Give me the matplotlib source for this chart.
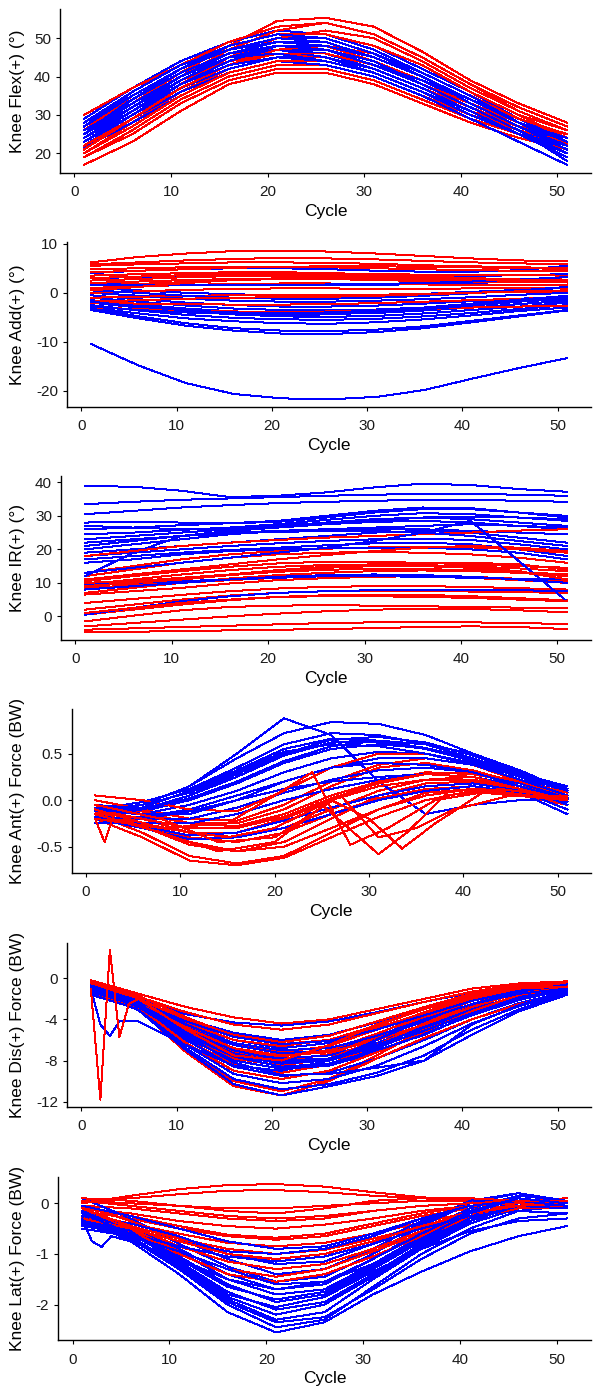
import matplotlib
matplotlib.use("Agg")
import matplotlib.pyplot as plt

plt.rcParams["font.family"] = ["Liberation Sans", "DejaVu Sans"]
plt.rcParams["axes.unicode_minus"] = False

# === Data: knee curves sampled every 5 cycles ===
CYCLE = [1, 6, 11, 16, 21, 26, 31, 36, 41, 46, 51]

flex_blue = [
    [29, 37, 44, 49, 52, 51, 47, 41, 35, 29, 25],
    [28, 35, 42, 47, 50, 50, 46, 40, 34, 28, 24],
    [27, 34, 41, 46, 49, 48, 44, 39, 33, 27, 23],
    [26, 33, 40, 45, 48, 47, 43, 38, 32, 26, 22],
    [25, 32, 39, 44, 47, 46, 42, 37, 31, 26, 21],
    [24, 31, 38, 43, 46, 46, 43, 38, 32, 27, 24],
    [23, 30, 37, 42, 45, 45, 42, 37, 31, 26, 22],
    [22, 29, 36, 41, 44, 44, 41, 36, 30, 25, 20],
    [21.5, 28, 35, 41, 44, 43, 40, 35, 29, 23, 17],
    [26, 34, 41, 46, 48, 47, 44, 39, 34, 29, 25],
    [24, 32, 40, 46, 49, 49, 45, 40, 34, 28, 22],
    [27, 36, 43, 48, 51, 51, 48, 42, 36, 29, 23],
    [23, 31, 39, 45, 47, 45, 41, 36, 31, 25, 19],
    [25, 33, 40, 45, 47, 46, 43, 39, 33, 27, 21],
    [22, 30, 38, 44, 47, 47, 44, 38, 32, 26, 18],
    [28, 36, 43, 47, 49, 48, 45, 40, 33, 27, 22],
    [24, 31, 38, 43, 45, 44, 41, 36, 30, 25, 20],
    [26, 33, 40, 45, 46, 44, 41, 36, 30, 25, 22],
    [25, 34, 42, 48, 51, 50, 46, 41, 35, 28, 23],
    [23, 30, 38, 44, 48, 48, 45, 40, 33, 27, 21],
    [27, 35, 42, 47, 50, 49, 45, 40, 34, 28, 24],
    [24, 32, 39, 45, 48, 47, 43, 38, 32, 26, 20],
]
flex_red = [
    [25, 33, 41, 48, 54.5, 55.3, 53, 46.5, 39, 33, 28],
    [24, 32, 40, 47, 52, 54, 51, 45, 38, 32, 27],
    [30, 37, 43, 48, 51, 51, 48, 42, 36, 30, 24],
    [22, 30, 38, 45, 50, 52, 50, 44, 37, 31, 26],
    [20, 28, 36, 42, 45, 45, 42, 37, 32, 27, 23],
    [19, 26, 34, 40, 43, 43, 40, 35, 30, 26, 22],
    [17, 23, 31, 38, 41, 41, 38, 33, 28, 24, 21],
    [19, 25, 33, 39, 42, 42, 39, 34, 29, 25, 22.5],
    [23, 31, 39, 45, 48, 48, 45, 40, 34, 29, 24],
    [26, 34, 41, 46, 47, 45, 41, 36, 31, 27, 25],
    [21, 29, 37, 43, 46, 46, 43, 38, 32, 27, 21],
    [27, 35, 42, 47, 49, 48, 44, 39, 33, 28, 24],
    [25, 33, 40, 45, 46, 45, 41, 36, 31, 26, 23],
    [20, 27, 35, 41, 44, 44, 41, 36, 30, 25, 20],
    [28, 36, 43, 49, 53, 54, 51, 45, 38, 31, 26],
    [24, 32, 39, 44, 46, 46, 43, 38, 33, 27, 22],
    [22, 29, 37, 43, 47, 48, 46, 41, 35, 29, 25],
    [26, 35, 42, 48, 51, 51, 48, 43, 36, 30, 26],
]

add_blue = [
    [4.0, 4.5, 4.8, 5.0, 5.0, 4.8, 4.5, 4.3, 4.3, 4.6, 5.5],
    [3.0, 3.2, 3.4, 3.5, 3.5, 3.4, 3.3, 3.3, 3.4, 3.6, 3.8],
    [2.0, 1.8, 1.6, 1.5, 1.5, 1.5, 1.6, 1.8, 2.0, 2.3, 2.6],
    [1.0, 0.5, 0.0, -0.3, -0.5, -0.5, -0.4, -0.2, 0.2, 0.6, 1.0],
    [0.0, -0.6, -1.2, -1.6, -1.8, -1.8, -1.6, -1.3, -0.9, -0.4, 0.0],
    [-0.5, -1.3, -2.0, -2.5, -2.8, -2.8, -2.6, -2.2, -1.7, -1.2, -0.8],
    [-1.0, -1.8, -2.6, -3.2, -3.5, -3.6, -3.4, -3.0, -2.4, -1.8, -1.2],
    [-1.5, -2.4, -3.2, -3.8, -4.2, -4.3, -4.1, -3.6, -3.0, -2.3, -1.6],
    [-2.0, -3.0, -3.8, -4.4, -4.8, -4.9, -4.7, -4.2, -3.5, -2.8, -2.0],
    [-2.5, -3.6, -4.5, -5.1, -5.4, -5.5, -5.3, -4.8, -4.1, -3.3, -2.5],
    [-3.0, -4.2, -5.2, -5.8, -6.2, -6.3, -6.0, -5.4, -4.6, -3.7, -3.0],
    [-3.2, -4.8, -6.2, -7.2, -7.7, -7.8, -7.5, -6.8, -5.7, -4.6, -3.5],
    [-3.5, -5.2, -6.7, -7.7, -8.3, -8.4, -8.0, -7.2, -6.0, -4.8, -3.6],
    [0.5, 0.0, -0.6, -1.0, -1.2, -1.2, -1.0, -0.6, -0.1, 0.5, 1.2],
    [1.5, 1.5, 1.5, 1.5, 1.6, 1.7, 1.8, 2.0, 2.3, 2.7, 3.2],
    [-2.8, -3.5, -4.0, -4.3, -4.5, -4.4, -4.0, -3.4, -2.6, -1.8, -1.0],
    [-10.4, -14.8, -18.4, -20.6, -21.5, -21.7, -21.2, -19.8, -17.5, -15.3, -13.3],
    [-1.8, -2.8, -3.6, -4.0, -4.1, -4.0, -3.6, -3.0, -2.2, -1.4, -0.6],
]
add_red = [
    [6.2, 7.3, 8.0, 8.5, 8.6, 8.4, 8.0, 7.5, 7.0, 6.6, 6.4],
    [5.8, 6.2, 6.6, 6.9, 7.1, 7.0, 6.8, 6.5, 6.2, 6.0, 5.8],
    [5.5, 5.8, 6.0, 6.2, 6.2, 6.1, 5.9, 5.6, 5.4, 5.2, 5.0],
    [4.8, 5.0, 5.2, 5.3, 5.3, 5.2, 5.0, 4.8, 4.6, 4.5, 4.4],
    [3.5, 3.8, 4.0, 4.2, 4.2, 4.0, 3.8, 3.7, 3.6, 3.6, 3.5],
    [2.5, 2.8, 3.2, 3.4, 3.5, 3.4, 3.2, 3.0, 2.9, 2.8, 2.7],
    [2.0, 2.3, 2.6, 2.8, 2.9, 2.8, 2.6, 2.4, 2.3, 2.2, 2.1],
    [1.0, 1.3, 1.6, 1.8, 1.9, 1.9, 1.8, 1.7, 1.6, 1.5, 1.5],
    [0.0, 0.3, 0.6, 0.8, 0.9, 0.9, 0.8, 0.8, 0.9, 1.0, 1.0],
    [-1.0, -0.8, -0.6, -0.5, -0.5, -0.5, -0.4, -0.2, 0.0, 0.2, 0.3],
    [-2.0, -2.2, -2.3, -2.4, -2.4, -2.3, -2.1, -1.8, -1.5, -1.2, -1.0],
    [-3.0, -3.3, -3.6, -3.8, -3.9, -3.8, -3.6, -3.3, -3.0, -2.8, -2.6],
    [4.2, 4.5, 4.8, 5.1, 5.3, 5.4, 5.4, 5.3, 5.2, 5.0, 4.9],
    [1.5, 1.8, 2.2, 2.6, 2.8, 2.9, 2.8, 2.7, 2.6, 2.5, 2.4],
    [-1.8, -1.5, -1.2, -1.0, -0.9, -0.8, -0.6, -0.3, 0.0, 0.3, 0.5],
    [0.5, 1.2, 2.0, 2.6, 3.0, 3.2, 3.2, 3.0, 2.8, 2.5, 2.3],
    [3.0, 3.3, 3.6, 3.8, 3.9, 3.8, 3.6, 3.3, 3.0, 2.7, 2.4],
]

ir_blue = [
    [38.9, 38.7, 37.5, 35.6, 36.0, 37.0, 38.5, 39.6, 39.2, 38.0, 37.2],
    [33.5, 34.2, 34.8, 35.2, 35.6, 36.0, 36.3, 36.6, 36.6, 36.3, 36.0],
    [30.5, 31.5, 32.5, 33.2, 33.8, 34.2, 34.5, 34.8, 34.8, 34.5, 34.2],
    [28.0, 28.2, 28.0, 27.8, 28.2, 29.5, 31.0, 32.0, 32.0, 31.0, 30.0],
    [26.0, 26.5, 27.2, 27.8, 28.5, 30.0, 31.5, 32.5, 32.3, 31.0, 29.5],
    [24.5, 25.0, 25.8, 26.5, 27.5, 28.8, 30.0, 30.8, 30.5, 29.5, 28.5],
    [23.0, 24.0, 25.0, 26.0, 27.0, 28.0, 29.0, 29.5, 29.0, 28.0, 27.0],
    [21.0, 22.5, 24.0, 25.5, 26.5, 27.5, 28.2, 28.5, 28.0, 27.0, 26.0],
    [20.0, 21.5, 23.0, 24.5, 25.5, 26.0, 26.2, 26.0, 25.5, 25.0, 24.5],
    [19.0, 20.0, 21.0, 22.0, 23.0, 24.0, 25.0, 25.5, 25.0, 23.5, 22.0],
    [18.0, 19.0, 20.0, 21.0, 21.8, 22.5, 23.0, 23.2, 22.8, 21.5, 20.0],
    [17.0, 18.0, 19.0, 19.8, 20.5, 21.2, 21.8, 22.0, 21.5, 20.0, 18.0],
    [16.0, 17.0, 18.5, 19.5, 20.0, 20.3, 20.5, 20.5, 20.0, 19.0, 17.0],
    [12.0, 19.0, 24.0, 25.0, 25.5, 26.0, 26.5, 27.0, 27.5, 27.0, 26.5],
    [8.0, 9.0, 10.0, 11.0, 11.8, 12.3, 12.5, 12.3, 11.8, 11.0, 10.0],
    [9.5, 10.0, 10.5, 11.0, 11.5, 12.0, 12.0, 11.8, 11.5, 11.2, 11.0],
    [0.5, 2.5, 4.5, 6.0, 7.0, 7.5, 7.8, 8.0, 8.0, 7.8, 7.5],
    [13.0, 14.5, 16.0, 17.5, 19.0, 20.5, 22.5, 25.0, 28.5, 16.5, 4.5],
    [27.0, 26.5, 26.0, 26.0, 26.5, 27.5, 28.5, 29.5, 29.8, 29.5, 29.0],
    [22.0, 23.0, 24.0, 24.8, 25.2, 25.5, 25.5, 25.0, 24.0, 22.5, 21.0],
]
ir_red = [
    [-4.8, -4.6, -4.4, -4.2, -4.0, -3.8, -3.5, -3.2, -3.0, -3.2, -3.8],
    [-4.0, -3.6, -3.2, -2.8, -2.4, -2.0, -1.8, -1.7, -1.8, -2.0, -2.3],
    [-3.0, -2.0, -1.0, 0.0, 0.8, 1.5, 2.0, 2.2, 2.2, 1.8, 1.2],
    [-1.5, 0.2, 1.8, 2.8, 3.2, 3.3, 3.2, 3.0, 2.8, 2.6, 2.5],
    [0.5, 2.0, 3.5, 4.8, 5.8, 6.3, 6.5, 6.4, 6.0, 5.4, 4.8],
    [2.0, 3.5, 5.0, 6.2, 7.0, 7.5, 7.7, 7.6, 7.4, 7.2, 7.0],
    [4.0, 5.2, 6.4, 7.5, 8.3, 8.8, 9.0, 9.0, 8.8, 8.4, 8.0],
    [6.5, 7.5, 8.5, 9.8, 10.8, 11.4, 11.8, 12.0, 11.8, 11.2, 10.5],
    [8.0, 9.5, 11.0, 12.3, 13.3, 13.9, 14.2, 14.1, 13.8, 13.2, 12.5],
    [9.5, 11.0, 12.5, 13.8, 14.8, 15.3, 15.5, 15.3, 14.9, 14.3, 13.5],
    [10.5, 12.0, 13.5, 14.8, 15.8, 16.3, 16.2, 16.0, 15.5, 15.0, 14.5],
    [12.0, 14.0, 16.0, 17.5, 18.5, 19.0, 19.2, 19.0, 18.5, 17.5, 16.0],
    [13.0, 15.0, 17.0, 18.5, 19.5, 20.2, 20.6, 20.8, 20.6, 20.0, 19.0],
    [7.0, 8.5, 10.0, 11.3, 12.3, 13.0, 13.5, 13.7, 13.5, 13.0, 12.0],
    [8.5, 9.2, 10.0, 10.8, 11.5, 12.0, 12.2, 12.0, 11.5, 10.8, 10.0],
    [18.0, 19.5, 21.0, 22.0, 22.8, 23.5, 24.0, 24.5, 25.0, 25.6, 26.0],
    [11.0, 12.5, 14.0, 15.5, 17.0, 18.3, 19.5, 20.5, 21.0, 20.5, 19.5],
    [9.0, 10.0, 11.0, 12.5, 13.8, 14.8, 15.5, 16.0, 16.0, 15.5, 14.0],
    [1.0, 2.5, 4.0, 5.0, 5.8, 6.0, 6.0, 5.8, 5.5, 5.0, 4.5],
    [10.0, 10.5, 11.5, 12.5, 13.5, 14.5, 15.0, 15.0, 14.5, 13.5, 11.0],
]

ant_blue = [
    [-0.10, -0.05, 0.15, 0.50, 0.88, 0.70, 0.20, -0.15, -0.05, 0.00, 0.00],
    [-0.15, -0.05, 0.15, 0.45, 0.72, 0.84, 0.82, 0.70, 0.50, 0.30, 0.10],
    [-0.10, -0.02, 0.12, 0.35, 0.60, 0.72, 0.70, 0.60, 0.45, 0.25, 0.05],
    [-0.20, -0.10, 0.05, 0.28, 0.50, 0.65, 0.68, 0.62, 0.48, 0.30, 0.12],
    [-0.15, -0.12, 0.00, 0.18, 0.40, 0.55, 0.60, 0.56, 0.45, 0.28, 0.08],
    [-0.12, -0.15, -0.05, 0.10, 0.30, 0.45, 0.52, 0.50, 0.40, 0.25, 0.05],
    [-0.20, -0.18, -0.10, 0.05, 0.20, 0.35, 0.45, 0.45, 0.38, 0.22, 0.00],
    [-0.10, -0.20, -0.20, -0.08, 0.08, 0.22, 0.32, 0.35, 0.30, 0.18, 0.02],
    [-0.25, -0.25, -0.25, -0.15, 0.00, 0.12, 0.22, 0.28, 0.25, 0.15, -0.05],
    [-0.15, -0.28, -0.38, -0.35, -0.22, -0.08, 0.05, 0.15, 0.18, 0.10, -0.10],
    [-0.20, -0.30, -0.42, -0.40, -0.30, -0.15, 0.00, 0.10, 0.15, 0.08, -0.15],
    [-0.05, -0.10, 0.05, 0.25, 0.48, 0.62, 0.62, 0.55, 0.42, 0.26, 0.10],
    [-0.10, -0.08, 0.10, 0.32, 0.55, 0.66, 0.64, 0.56, 0.44, 0.28, 0.15],
    [-0.18, -0.20, -0.12, 0.00, 0.12, 0.20, 0.25, 0.28, 0.25, 0.15, 0.00],
    [-0.12, -0.05, 0.08, 0.30, 0.52, 0.60, 0.58, 0.50, 0.38, 0.22, 0.05],
    [-0.08, -0.15, -0.15, 0.00, 0.20, 0.35, 0.40, 0.38, 0.30, 0.15, -0.02],
    [-0.12, -0.10, 0.02, 0.20, 0.42, 0.58, 0.64, 0.60, 0.50, 0.32, 0.10],
]
ant_red = [
    [-0.10, -0.20, -0.35, -0.40, -0.30, -0.10, 0.10, 0.22, 0.25, 0.15, 0.05],
    [-0.05, -0.25, -0.45, -0.55, -0.45, -0.20, 0.05, 0.18, 0.20, 0.12, 0.00],
    [-0.15, -0.35, -0.60, -0.68, -0.60, -0.35, -0.10, 0.08, 0.12, 0.08, -0.05],
    [-0.20, -0.40, -0.65, -0.70, -0.62, -0.40, -0.18, 0.00, 0.10, 0.05, -0.05],
    [-0.10, -0.15, -0.25, -0.28, -0.15, 0.05, 0.20, 0.30, 0.28, 0.18, 0.05],
    [0.00, -0.10, -0.20, -0.22, -0.05, 0.20, 0.38, 0.45, 0.38, 0.22, 0.05],
    [-0.05, -0.12, -0.25, -0.25, -0.10, 0.15, 0.35, 0.40, 0.32, 0.18, 0.00],
    [-0.15, -0.25, -0.35, -0.35, -0.20, 0.00, 0.15, 0.22, 0.22, 0.12, 0.00],
    [-0.20, -0.30, -0.40, -0.45, -0.35, -0.15, 0.02, 0.12, 0.15, 0.08, -0.05],
    [0.05, 0.00, -0.10, -0.12, 0.10, 0.35, 0.50, 0.50, 0.38, 0.20, 0.05],
    [-0.10, -0.20, -0.30, -0.30, -0.18, 0.02, 0.18, 0.28, 0.30, 0.20, 0.08],
    [-0.12, -0.28, -0.48, -0.55, -0.50, -0.30, -0.10, 0.05, 0.12, 0.10, 0.00],
]
# irregular red curves with their own cycle points
ant_red_spiky = [
    ([1, 8, 15, 20, 24, 28, 32, 37, 43, 51],
     [-0.20, -0.30, -0.25, 0.05, 0.30, -0.48, -0.30, 0.00, 0.10, 0.00]),
    ([1, 8, 15, 20, 25, 31, 34, 38, 44, 51],
     [-0.10, -0.30, -0.40, -0.30, -0.05, -0.58, -0.35, 0.05, 0.12, 0.02]),
    ([1, 8, 14, 20, 26, 30, 33.5, 37, 42, 51],
     [-0.15, -0.35, -0.55, -0.45, 0.00, -0.20, -0.52, -0.25, 0.08, 0.00]),
    ([1, 8, 14, 20, 27, 31, 35, 39, 45, 51],
     [-0.05, -0.20, -0.45, -0.40, 0.05, -0.40, -0.30, -0.10, 0.05, 0.05]),
    ([1, 2, 3, 6, 11, 16, 21, 26, 31, 36, 41, 46, 51],
     [-0.20, -0.45, -0.15, -0.20, -0.30, -0.30, -0.15, 0.05, 0.20, 0.28, 0.25, 0.12, 0.00]),
]

dis_blue = [
    [-0.8, -2.0, -3.5, -4.3, -4.6, -4.2, -3.3, -2.3, -1.4, -0.8, -0.5],
    [-1.0, -2.2, -4.0, -5.3, -6.0, -5.5, -4.3, -3.0, -1.8, -1.0, -0.6],
    [-1.2, -2.5, -4.5, -6.0, -6.8, -6.3, -5.0, -3.5, -2.2, -1.2, -0.7],
    [-1.0, -2.3, -4.8, -6.5, -7.3, -7.0, -5.8, -4.2, -2.6, -1.5, -0.8],
    [-1.3, -2.6, -5.2, -7.0, -7.8, -7.5, -6.3, -4.6, -3.0, -1.7, -0.9],
    [-0.9, -2.4, -5.5, -7.5, -8.3, -8.0, -6.8, -5.0, -3.3, -1.9, -1.0],
    [-1.5, -2.8, -5.8, -8.0, -8.8, -8.5, -7.2, -5.4, -3.6, -2.1, -1.1],
    [-1.1, -2.7, -6.0, -8.6, -9.5, -9.2, -7.8, -6.0, -4.0, -2.4, -1.3],
    [-1.4, -2.9, -6.5, -9.3, -10.2, -9.8, -8.5, -6.6, -4.4, -2.7, -1.4],
    [-1.6, -3.0, -6.8, -9.8, -10.8, -10.3, -9.2, -7.5, -5.0, -3.0, -1.5],
    [-1.2, -3.1, -7.0, -10.3, -11.4, -10.5, -9.5, -8.0, -5.5, -3.2, -1.6],
    [-1.0, -2.5, -5.0, -7.0, -8.0, -7.8, -6.5, -4.8, -3.2, -1.8, -1.0],
    [-1.3, -2.7, -5.5, -7.6, -8.6, -8.3, -7.0, -5.5, -3.5, -2.0, -1.2],
    [-0.7, -2.2, -4.5, -6.3, -7.0, -6.8, -5.6, -4.0, -2.5, -1.3, -0.6],
    [-1.1, -2.8, -5.6, -8.2, -9.4, -9.3, -8.7, -8.0, -4.5, -2.6, -1.2],
    [-1.0, -2.6, -5.3, -7.3, -8.2, -7.9, -6.7, -5.1, -3.4, -1.9, -1.1],
    [-0.9, -2.3, -4.2, -5.7, -6.4, -6.1, -5.0, -3.6, -2.2, -1.2, -0.7],
]
dis_blue_spiky = [
    ([1, 2, 3, 4, 6, 11, 16, 21, 26, 31, 36, 41, 46, 51],
     [-1.0, -4.5, -5.6, -4.2, -4.2, -6.5, -8.5, -9.0, -8.0, -6.0, -4.0, -2.5, -1.5, -1.0]),
]
dis_red = [
    [-0.2, -1.5, -2.8, -3.8, -4.4, -4.0, -3.0, -2.0, -1.0, -0.5, -0.3],
    [-0.5, -1.8, -3.3, -4.5, -5.0, -4.5, -3.4, -2.3, -1.3, -0.6, -0.4],
    [-0.8, -2.0, -4.0, -5.5, -6.2, -5.6, -4.2, -2.8, -1.5, -0.7, -0.5],
    [-1.0, -2.2, -4.6, -6.4, -7.2, -6.6, -5.0, -3.3, -1.8, -0.8, -0.6],
    [-1.2, -2.5, -5.2, -7.2, -8.0, -7.4, -5.7, -3.8, -2.1, -1.0, -0.7],
    [-0.9, -2.3, -5.6, -7.8, -8.5, -7.8, -6.0, -4.0, -2.2, -1.0, -0.6],
    [-1.4, -2.7, -6.0, -8.4, -9.2, -8.4, -6.5, -4.4, -2.5, -1.2, -0.8],
    [-1.0, -2.6, -6.8, -10.0, -11.0, -9.8, -7.5, -5.0, -3.2, -1.8, -1.2],
    [-1.6, -3.0, -7.2, -10.5, -11.4, -10.0, -7.8, -5.8, -4.0, -2.5, -1.5],
    [-0.6, -2.0, -4.3, -6.0, -6.6, -6.0, -4.6, -3.0, -1.6, -0.8, -0.5],
    [-1.1, -2.4, -5.0, -7.0, -7.6, -7.0, -5.4, -3.6, -2.0, -1.0, -0.6],
    [-0.4, -1.7, -3.8, -5.6, -6.4, -6.0, -4.8, -3.4, -2.0, -1.0, -0.5],
    [-1.3, -2.8, -6.3, -9.0, -9.8, -9.0, -7.2, -5.2, -3.2, -1.6, -0.9],
    [-0.7, -2.1, -4.8, -6.8, -7.5, -7.2, -6.0, -4.5, -2.8, -1.4, -0.7],
]
dis_red_spiky = [
    ([1, 2, 3, 4, 5, 6, 11, 16, 21, 26, 31, 36, 41, 46, 51],
     [-1.0, -11.8, 2.8, -5.7, -2.5, -2.0, -5.0, -7.5, -8.0, -6.5, -4.5, -3.0, -1.8, -1.0, -0.8]),
]

lat_blue = [
    [-0.30, -0.75, -1.40, -2.15, -2.55, -2.35, -1.80, -1.35, -0.95, -0.65, -0.45],
    [-0.25, -0.70, -1.30, -2.00, -2.45, -2.30, -1.65, -1.00, -0.50, -0.15, -0.05],
    [-0.20, -0.65, -1.25, -1.90, -2.30, -2.15, -1.50, -0.90, -0.40, -0.10, -0.05],
    [-0.30, -0.60, -1.15, -1.75, -2.10, -1.95, -1.40, -0.80, -0.30, 0.00, -0.10],
    [-0.15, -0.55, -1.05, -1.60, -1.95, -1.80, -1.30, -0.75, -0.25, 0.05, -0.05],
    [-0.10, -0.50, -0.95, -1.50, -1.80, -1.70, -1.20, -0.65, -0.15, 0.10, 0.00],
    [-0.20, -0.45, -0.90, -1.40, -1.70, -1.60, -1.10, -0.55, -0.10, 0.15, 0.05],
    [0.10, -0.30, -0.80, -1.25, -1.55, -1.45, -1.00, -0.45, 0.00, 0.20, 0.05],
    [-0.05, -0.35, -0.70, -1.10, -1.40, -1.30, -0.90, -0.40, 0.05, 0.20, 0.00],
    [-0.25, -0.40, -0.65, -1.00, -1.20, -1.15, -0.80, -0.35, 0.00, 0.10, -0.05],
    [-0.35, -0.50, -0.75, -0.95, -1.00, -0.90, -0.65, -0.30, -0.05, 0.05, -0.10],
    [-0.45, -0.60, -0.85, -1.05, -1.15, -1.05, -0.80, -0.50, -0.25, -0.15, -0.20],
    [-0.40, -0.70, -1.20, -1.80, -2.05, -1.85, -1.35, -0.90, -0.55, -0.35, -0.30],
    [-0.15, -0.55, -1.20, -1.85, -2.20, -2.00, -1.45, -0.85, -0.35, -0.05, 0.00],
    [-0.50, -0.65, -0.95, -1.30, -1.60, -1.55, -1.20, -0.75, -0.30, -0.05, -0.10],
    [-0.05, -0.25, -0.50, -0.75, -0.90, -0.85, -0.60, -0.30, -0.05, 0.05, -0.05],
    [-0.20, -0.60, -1.10, -1.65, -1.90, -1.75, -1.25, -0.70, -0.20, 0.10, 0.00],
    [-0.35, -0.70, -1.30, -1.95, -2.35, -2.25, -1.70, -1.10, -0.60, -0.30, -0.20],
]
lat_blue_spiky = [
    ([1, 2, 3, 4, 6, 11, 16, 21, 26, 31, 36, 41, 46, 51],
     [-0.30, -0.75, -0.86, -0.65, -0.75, -1.10, -1.50, -1.70, -1.55, -1.10, -0.60, -0.15, 0.10, 0.00]),
]
lat_red = [
    [0.00, 0.15, 0.28, 0.36, 0.38, 0.33, 0.22, 0.12, 0.06, 0.05, 0.05],
    [0.05, 0.10, 0.18, 0.25, 0.26, 0.22, 0.15, 0.10, 0.05, 0.00, -0.05],
    [0.05, 0.00, -0.05, -0.10, -0.10, -0.05, 0.00, 0.05, 0.05, 0.05, 0.10],
    [-0.05, -0.10, -0.20, -0.30, -0.35, -0.30, -0.15, -0.05, 0.00, 0.00, 0.00],
    [-0.10, -0.20, -0.35, -0.45, -0.50, -0.42, -0.30, -0.15, -0.05, 0.00, -0.05],
    [-0.15, -0.30, -0.50, -0.65, -0.72, -0.65, -0.45, -0.25, -0.10, -0.05, -0.05],
    [-0.20, -0.40, -0.60, -0.78, -0.85, -0.78, -0.60, -0.38, -0.18, -0.05, 0.00],
    [-0.25, -0.45, -0.70, -0.90, -1.00, -0.92, -0.70, -0.45, -0.20, -0.05, 0.00],
    [-0.05, -0.35, -0.70, -1.00, -1.15, -1.05, -0.80, -0.50, -0.20, -0.05, -0.05],
    [-0.10, -0.45, -0.85, -1.15, -1.30, -1.20, -0.90, -0.55, -0.25, -0.10, -0.10],
    [-0.15, -0.50, -0.95, -1.30, -1.45, -1.30, -0.95, -0.60, -0.28, -0.10, -0.05],
    [-0.20, -0.55, -1.00, -1.40, -1.55, -1.40, -1.05, -0.65, -0.30, -0.10, -0.05],
    [0.05, -0.05, -0.15, -0.25, -0.30, -0.25, -0.15, -0.05, 0.00, 0.05, 0.05],
    [-0.10, -0.25, -0.45, -0.62, -0.68, -0.60, -0.40, -0.20, -0.05, 0.00, 0.00],
    [-0.30, -0.50, -0.75, -1.00, -1.10, -1.00, -0.75, -0.45, -0.20, -0.05, 0.00],
    [0.10, 0.05, -0.05, -0.15, -0.20, -0.10, 0.05, 0.10, 0.10, 0.05, 0.05],
]

# panel specs: label, blue, red, extra blue, extra red, y ticks, y tick labels
PANELS = [
    ("Knee Flex(+) (°)", flex_blue, flex_red, [], [], [20, 30, 40, 50], ["20", "30", "40", "50"]),
    ("Knee Add(+) (°)", add_blue, add_red, [], [], [-20, -10, 0, 10], ["-20", "-10", "0", "10"]),
    ("Knee IR(+) (°)", ir_blue, ir_red, [], [], [0, 10, 20, 30, 40], ["0", "10", "20", "30", "40"]),
    ("Knee Ant(+) Force (BW)", ant_blue, ant_red, [], ant_red_spiky, [-0.5, 0.0, 0.5], ["-0.5", "0.0", "0.5"]),
    ("Knee Dis(+) Force (BW)", dis_blue, dis_red, dis_blue_spiky, dis_red_spiky, [-12, -8, -4, 0], ["-12", "-8", "-4", "0"]),
    ("Knee Lat(+) Force (BW)", lat_blue, lat_red, lat_blue_spiky, [], [-2, -1, 0], ["-2", "-1", "0"]),
]
X_TICKS = [0, 10, 20, 30, 40, 50]

# layout in pixels: (left, top, bottom) of each panel, and y limits
W, H = 600, 1400
RIGHT = 591
BOXES = [(60, 9, 173), (67, 242, 407), (61, 476, 640),
         (71.5, 709, 873), (67, 943, 1107), (58, 1177, 1340)]
YLIMS = [(14.85, 57.6), (-23.26, 10.35), (-7.07, 41.9),
         (-0.783, 0.98), (-12.52, 3.43), (-2.70, 0.52)]
RED_ON_TOP = [False, False, False, False, False, True]

BLUE = "#0000FF"
RED = "#FF0000"
LW = 0.72

fig = plt.figure(figsize=(W / 100, H / 100), dpi=100)

for k, (label, blue, red, xblue, xred, yt, ytl) in enumerate(PANELS):
    left, top, bot = BOXES[k]
    ax = fig.add_axes([left / W, 1 - bot / H, (RIGHT - left) / W, (bot - top) / H])
    pairs = [(blue, BLUE), (red, RED)]
    if not RED_ON_TOP[k]:
        pairs = pairs[::-1]
    n = max(len(blue), len(red))
    for i in range(n):
        for curves, col in pairs:
            if i < len(curves):
                ax.plot(CYCLE, curves[i], color=col, lw=LW, antialiased=False)
    for xs, ys in xblue:
        ax.plot(xs, ys, color=BLUE, lw=LW, antialiased=False)
    for xs, ys in xred:
        ax.plot(xs, ys, color=RED, lw=LW, antialiased=False)

    ax.set_xlim(-1.5, 53.5)
    ax.set_ylim(*YLIMS[k])
    ax.set_xticks(X_TICKS)
    ax.set_xticklabels([str(t) for t in X_TICKS])
    ax.set_yticks(yt)
    ax.set_yticklabels(ytl)
    for side in ("top", "right"):
        ax.spines[side].set_visible(False)
    for side in ("left", "bottom"):
        ax.spines[side].set_linewidth(1.0)
        ax.spines[side].set_color("black")
    ax.tick_params(axis="both", direction="out", length=3, width=0.8,
                   colors="black", labelsize=11, labelcolor="#1a1a1a")
    ax.tick_params(axis="x", pad=6)
    ax.tick_params(axis="y", pad=3.5)
    ax.set_xlabel("Cycle", fontsize=12.5, labelpad=3)
    fig.text(10 / W, 1 - (top + bot) / 2 / H, label, rotation=90,
             ha="left", va="center", fontsize=12.5)

fig.savefig("out.png", dpi=100)
plt.close(fig)
